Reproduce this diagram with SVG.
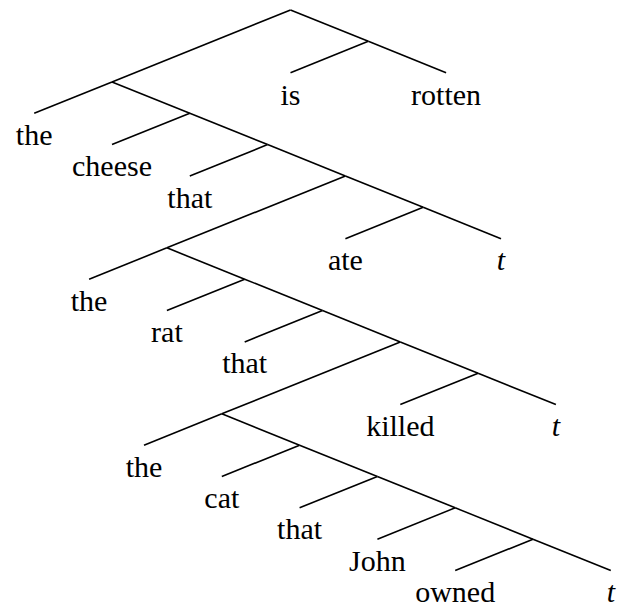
<svg xmlns="http://www.w3.org/2000/svg" width="621" height="609" viewBox="0 0 621 609">
<style>
.e{stroke:#000;stroke-width:1.6;fill:none;stroke-linecap:butt}
.lbl{font-size:30px;fill:#000;text-anchor:middle}
.it{font-style:italic}
</style>
<rect width="621" height="609" fill="#fff"/>
<g id="connectors" class="e">
<path d="M290.5,10 L368.3,41.35"/>
<path d="M368.3,41.35 L290.5,72.7"/>
<path d="M368.3,41.35 L446.1,72.7"/>
<path d="M290.5,10 L112,81.9"/>
<path d="M112,81.9 L34.2,113.25"/>
<path d="M112,81.9 L189.8,113.25"/>
<path d="M189.8,113.25 L112,144.6"/>
<path d="M189.8,113.25 L267.6,144.6"/>
<path d="M267.6,144.6 L189.8,175.95"/>
<path d="M267.6,144.6 L345.4,175.95"/>
<path d="M345.4,175.95 L423.2,207.3"/>
<path d="M423.2,207.3 L345.4,238.65"/>
<path d="M423.2,207.3 L501,238.65"/>
<path d="M345.4,175.95 L166.9,247.85"/>
<path d="M166.9,247.85 L89.1,279.2"/>
<path d="M166.9,247.85 L244.7,279.2"/>
<path d="M244.7,279.2 L166.9,310.55"/>
<path d="M244.7,279.2 L322.5,310.55"/>
<path d="M322.5,310.55 L244.7,341.9"/>
<path d="M322.5,310.55 L400.3,341.9"/>
<path d="M400.3,341.9 L478.1,373.25"/>
<path d="M478.1,373.25 L400.3,404.6"/>
<path d="M478.1,373.25 L555.9,404.6"/>
<path d="M400.3,341.9 L221.8,413.8"/>
<path d="M221.8,413.8 L144,445.15"/>
<path d="M221.8,413.8 L299.6,445.15"/>
<path d="M299.6,445.15 L221.8,476.5"/>
<path d="M299.6,445.15 L377.4,476.5"/>
<path d="M377.4,476.5 L299.6,507.85"/>
<path d="M377.4,476.5 L455.2,507.85"/>
<path d="M455.2,507.85 L377.4,539.2"/>
<path d="M455.2,507.85 L533,539.2"/>
<path d="M533,539.2 L455.2,570.55"/>
<path d="M533,539.2 L610.8,570.55"/>
</g>
<g class="lbl" font-family="Liberation Serif, DejaVu Serif, serif">
<g id="leaf-is"><text x="290.5" y="104.5">is</text></g>
<g id="leaf-rotten"><text x="446.1" y="104.5">rotten</text></g>
<g id="leaf-the1"><text x="34.2" y="145">the</text></g>
<g id="leaf-cheese"><text x="112" y="176.3">cheese</text></g>
<g id="leaf-that1"><text x="189.8" y="207.6">that</text></g>
<g id="leaf-ate"><text x="345.4" y="270.2">ate</text></g>
<g id="leaf-t1"><text class="it" x="501" y="270.2">t</text></g>
<g id="leaf-the2"><text x="89.1" y="310.8">the</text></g>
<g id="leaf-rat"><text x="166.9" y="342.1">rat</text></g>
<g id="leaf-that2"><text x="244.7" y="373.4">that</text></g>
<g id="leaf-killed"><text x="400.3" y="436.1">killed</text></g>
<g id="leaf-t2"><text class="it" x="555.9" y="436.1">t</text></g>
<g id="leaf-the3"><text x="144" y="476.7">the</text></g>
<g id="leaf-cat"><text x="221.8" y="508">cat</text></g>
<g id="leaf-that3"><text x="299.6" y="539.4">that</text></g>
<g id="leaf-john"><text x="377.4" y="570.7">John</text></g>
<g id="leaf-owned"><text x="455.2" y="602">owned</text></g>
<g id="leaf-t3"><text class="it" x="610.8" y="602">t</text></g>
</g>
</svg>
